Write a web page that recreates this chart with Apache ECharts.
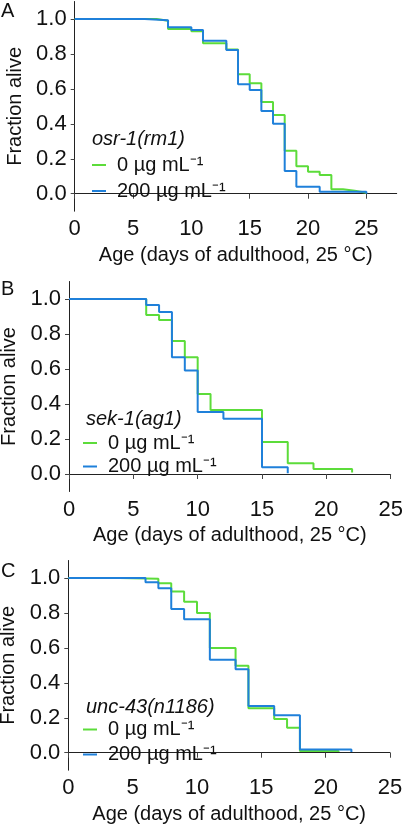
<!DOCTYPE html>
<html><head><meta charset="utf-8">
<script src="https://cdn.jsdelivr.net/npm/echarts@6/dist/echarts.min.js"></script>
<style>html,body{margin:0;padding:0;background:#fff}#c{width:402px;height:824px}</style>
</head><body><div id="c"></div>
<script>
// ---- data ----
const panelLetters = ['A', 'B', 'C'];
const strainNames = ['osr-1(rm1)', 'sek-1(ag1)', 'unc-43(n1186)'];
const doseNames = ['0 µg mL⁻¹', '200 µg mL⁻¹'];
const xTickValues = [0, 5, 10, 15, 20, 25];
const yTickValues = [0, 0.2, 0.4, 0.6, 0.8, 1.0];
const xAxisTitle = 'Age (days of adulthood, 25 °C)';
const yAxisTitle = 'Fraction alive';

// Panel A: osr-1(rm1)
const daysA0 = [0, 7, 8, 10, 11, 13, 14, 15, 16, 17, 18, 19, 20, 21, 22, 23, 24, 25];
const survA0 = [1.0, 0.99, 0.942, 0.93, 0.861, 0.826, 0.683, 0.632, 0.525, 0.45, 0.246, 0.157, 0.126, 0.107, 0.025, 0.017, 0.006, 0.003];
const daysA200 = [0, 6, 8, 10, 11, 13, 14, 15, 16, 17, 18, 19, 21, 25];
const survA200 = [1.0, 0.992, 0.952, 0.937, 0.876, 0.823, 0.626, 0.594, 0.473, 0.401, 0.13, 0.04, 0.012, 0.0];

// Panel B: sek-1(ag1)
const daysB0 = [0, 6, 7, 8, 9, 10, 11, 15, 17, 19, 22];
const survB0 = [1.0, 0.909, 0.88, 0.76, 0.667, 0.457, 0.366, 0.183, 0.061, 0.029, 0.008];
const daysB200 = [0, 6, 7, 8, 9, 10, 12, 15, 17];
const survB200 = [1.0, 0.966, 0.926, 0.667, 0.592, 0.354, 0.316, 0.038, 0.005];

// Panel C: unc-43(n1186)
const daysC0 = [0, 4, 7, 8, 9, 10, 11, 13, 14, 16, 17, 18, 21];
const survC0 = [1.0, 0.995, 0.97, 0.922, 0.864, 0.80, 0.60, 0.498, 0.254, 0.193, 0.143, 0.01, 0.004];
const daysC200 = [0, 6, 7, 8, 9, 11, 13, 14, 16, 18, 22];
const survC200 = [1.0, 0.975, 0.941, 0.823, 0.764, 0.532, 0.477, 0.267, 0.214, 0.019, 0.004];

const xMaxes = [27.6, 25, 25];

// ---- layout / style ----
const FONT = 'Liberation Sans, Arial, Helvetica, sans-serif';
const TXT = '#111';
const COLORS = ['#5cdc3a', '#1f80da'];
const grids = [
  { left: 74.7, top: 1.5, width: 322, height: 209.7, outerBoundsMode: 'none', containLabel: false },
  { left: 69, top: 281.5, width: 321.7, height: 210, outerBoundsMode: 'none', containLabel: false },
  { left: 68.3, top: 560.5, width: 321.7, height: 209.7, outerBoundsMode: 'none', containLabel: false }
];
const legendPos = [
  { left: 92, top: 155, gap: 6, titleTop: 129, titleLeft: 92 },
  { left: 83, top: 433, gap: 3.5, titleTop: 409, titleLeft: 86 },
  { left: 83, top: 719.5, gap: 5, titleTop: 697, titleLeft: 86 }
];
const letterTops = [1, 279, 561];

const zip = (a, b) => a.map((d, i) => [d, b[i]]);
const seriesData = [
  [zip(daysA0, survA0), zip(daysA200, survA200)],
  [zip(daysB0, survB0), zip(daysB200, survB200)],
  [zip(daysC0, survC0), zip(daysC200, survC200)]
];

const xAxes = [], yAxes = [], series = [], legends = [], titles = [];
for (let p = 0; p < 3; p++) {
  xAxes.push({
    gridIndex: p, type: 'value', min: 0, max: xMaxes[p],
    name: xAxisTitle, nameLocation: 'middle', nameGap: 34,
    nameTextStyle: { fontFamily: FONT, fontSize: 20, color: TXT },
    axisLine: { lineStyle: { color: '#222', width: 1 } },
    axisTick: { show: true, length: 5, customValues: xTickValues, lineStyle: { color: '#444' } },
    axisLabel: { customValues: xTickValues, margin: 7, fontFamily: FONT, fontSize: 22, color: TXT },
    splitLine: { show: false }
  });
  yAxes.push({
    gridIndex: p, type: 'value', min: -0.1, max: 1.1,
    name: yAxisTitle, nameLocation: 'middle', nameGap: 49,
    nameTextStyle: { fontFamily: FONT, fontSize: 20, color: TXT },
    axisLine: { show: true, lineStyle: { color: '#222', width: 1 } },
    axisTick: { show: true, length: 4, customValues: yTickValues, lineStyle: { color: '#444' } },
    axisLabel: { customValues: yTickValues, margin: 8, fontFamily: FONT, fontSize: 22, color: TXT,
      formatter: v => v.toFixed(1) },
    splitLine: { show: false }
  });
  for (let s = 0; s < 2; s++) {
    series.push({
      type: 'line', name: doseNames[s], step: 'end',
      xAxisIndex: p, yAxisIndex: p,
      data: seriesData[p][s], showSymbol: false, symbol: 'none',
      color: COLORS[s],
      lineStyle: { width: 2, color: COLORS[s] },
      z: 2 + s
    });
  }
  const lp = legendPos[p];
  legends.push({
    data: doseNames, orient: 'vertical', left: lp.left, top: lp.top,
    padding: 0, itemGap: lp.gap, icon: 'rect', itemWidth: 14, itemHeight: 2,
    selectedMode: false,
    textStyle: { fontFamily: FONT, fontSize: 20, lineHeight: 20, color: TXT, padding: [0, 0, 0, 6] }
  });
  titles.push({
    text: strainNames[p], left: lp.titleLeft, top: lp.titleTop, padding: 0,
    textStyle: { fontFamily: FONT, fontSize: 20, fontStyle: 'italic', fontWeight: 'normal', color: TXT }
  });
  titles.push({
    text: panelLetters[p], left: 1, top: letterTops[p], padding: 0,
    textStyle: { fontFamily: FONT, fontSize: 20, fontWeight: 'normal', color: TXT }
  });
}

const chart = echarts.init(document.getElementById('c'), null, { renderer: 'canvas' });
chart.setOption({
  animation: false,
  backgroundColor: '#fff',
  title: titles,
  legend: legends,
  grid: grids,
  xAxis: xAxes,
  yAxis: yAxes,
  series: series
});
</script></body></html>
